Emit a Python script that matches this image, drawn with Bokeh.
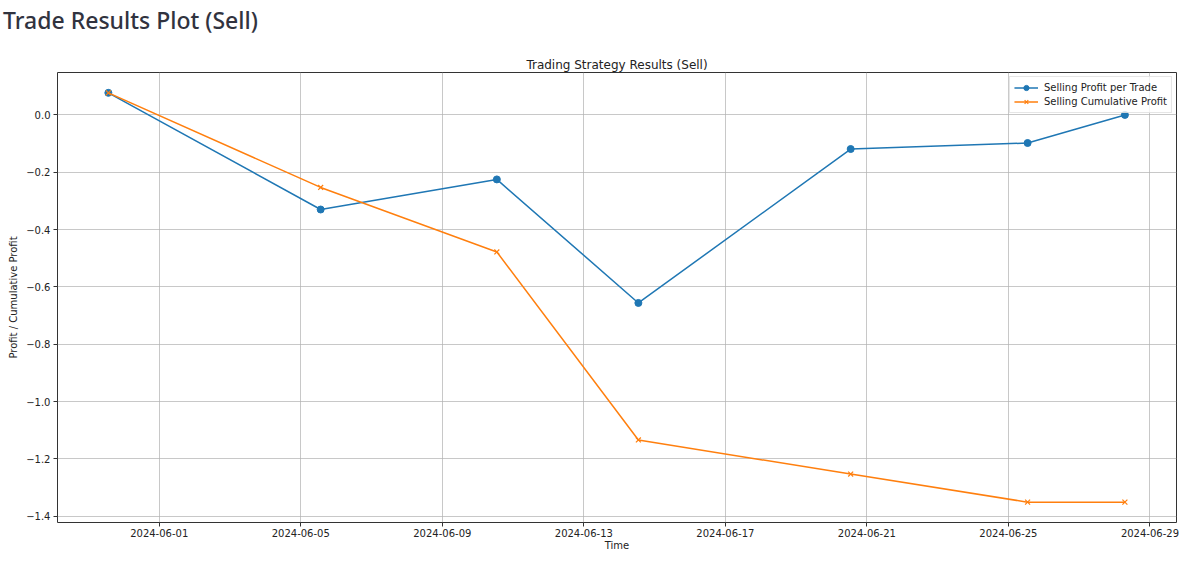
from datetime import datetime

from bokeh.embed import file_html
from bokeh.layouts import column
from bokeh.models import (ColumnDataSource, CustomJSTickFormatter, DatetimeTickFormatter,
                          Div, FixedTicker, Legend, Range1d)
from bokeh.plotting import figure
from bokeh.resources import INLINE

# trade times
trade_times = [
    datetime(2024, 5, 30, 13, 30),
    datetime(2024, 6, 5, 13, 30),
    datetime(2024, 6, 10, 13, 0),
    datetime(2024, 6, 14, 13, 0),
    datetime(2024, 6, 20, 13, 0),
    datetime(2024, 6, 25, 13, 0),
    datetime(2024, 6, 28, 7, 0),
]
profit_per_trade = [0.077, -0.330, -0.225, -0.656, -0.119, -0.098, 0.000]
cumulative_profit = [0.077, -0.253, -0.478, -1.134, -1.253, -1.351, -1.351]

x_tick_dates = [datetime(2024, 6, d) for d in (1, 5, 9, 13, 17, 21, 25, 29)]
y_ticks = [0.0, -0.2, -0.4, -0.6, -0.8, -1.0, -1.2, -1.4]

BLUE = "#1f77b4"
ORANGE = "#ff7f0e"
FONT = "DejaVu Sans"


def to_ms(d):
    return (d - datetime(1970, 1, 1)).total_seconds() * 1000.0


src = ColumnDataSource(dict(t=trade_times, p=profit_per_trade, c=cumulative_profit))

p = figure(
    width=1184,
    height=499,
    x_axis_type="datetime",
    output_backend="svg",
    toolbar_location=None,
    title="Trading Strategy Results (Sell)",
    x_axis_label="Time",
    y_axis_label="Profit / Cumulative Profit",
    min_border_left=57,
    min_border_right=8,
    min_border_bottom=4,
    min_border_top=4,
)

t0 = to_ms(datetime(2024, 5, 29, 3, 0))
t1 = to_ms(datetime(2024, 6, 29, 18, 0))
p.x_range = Range1d(t0, t1)
p.y_range = Range1d(-1.422, 0.148)

p.title.align = "center"
p.title.text_font = FONT
p.title.text_font_size = "12px"
p.title.text_font_style = "normal"
p.title.text_color = "#222222"
p.title.standoff = 2

p.outline_line_color = "#333333"
p.outline_line_width = 1
p.outline_line_alpha = 1

for ax in (p.xaxis[0], p.yaxis[0]):
    ax.axis_line_color = None
    ax.major_tick_line_color = "#333333"
    ax.major_tick_out = 4
    ax.major_tick_in = 0
    ax.minor_tick_line_color = None
    ax.major_label_text_font = FONT
    ax.major_label_text_font_size = "10px"
    ax.major_label_text_color = "#222222"
    ax.axis_label_text_font = FONT
    ax.axis_label_text_font_size = "10px"
    ax.axis_label_text_font_style = "normal"
    ax.axis_label_text_color = "#222222"
    ax.axis_label_standoff = 4
    ax.major_label_standoff = 3

p.xaxis[0].axis_label_standoff = 0
p.xaxis[0].major_label_standoff = 2
p.xaxis[0].ticker = FixedTicker(ticks=[to_ms(d) for d in x_tick_dates])
p.xaxis[0].formatter = DatetimeTickFormatter(days="%Y-%m-%d", months="%Y-%m-%d")
p.yaxis[0].ticker = FixedTicker(ticks=y_ticks)
p.yaxis[0].formatter = CustomJSTickFormatter(
    code="return tick.toFixed(1).replace('-', '\u2212');")

p.xgrid.grid_line_color = "#b0b0b0"
p.ygrid.grid_line_color = "#b0b0b0"
p.xgrid.grid_line_alpha = 0.7
p.ygrid.grid_line_alpha = 0.7
p.xgrid.grid_line_width = 1
p.ygrid.grid_line_width = 1

l1 = p.line("t", "p", source=src, line_color=BLUE, line_width=1.5)
m1 = p.scatter("t", "p", source=src, marker="circle", size=7,
               fill_color=BLUE, line_color=BLUE)
l2 = p.line("t", "c", source=src, line_color=ORANGE, line_width=1.5)
m2 = p.scatter("t", "c", source=src, marker="x", size=7,
               line_color=ORANGE, line_width=1.2)

legend = Legend(
    items=[("Selling Profit per Trade", [l1, m1]),
           ("Selling Cumulative Profit", [l2, m2])],
    location="top_right",
    label_text_font=FONT,
    label_text_font_size="10px",
    label_text_color="#222222",
    border_line_color="#cccccc",
    border_line_width=1,
    background_fill_alpha=0.8,
    glyph_width=24,
    glyph_height=13,
    label_height=13,
    spacing=1,
    padding=4,
    margin=4,
    label_standoff=6,
)
p.add_layout(legend)

header = Div(
    text="<div style=\"font-family:'Noto Sans';font-size:23px;font-weight:500;"
         "color:#31333f;line-height:28px;margin-left:-2px;padding-top:1px;\">"
         "Trade Results Plot (Sell)</div>",
    width=600,
    height=44,
)

layout = column(header, p, spacing=0)

open("out.html", "w").write(file_html(layout, INLINE))
